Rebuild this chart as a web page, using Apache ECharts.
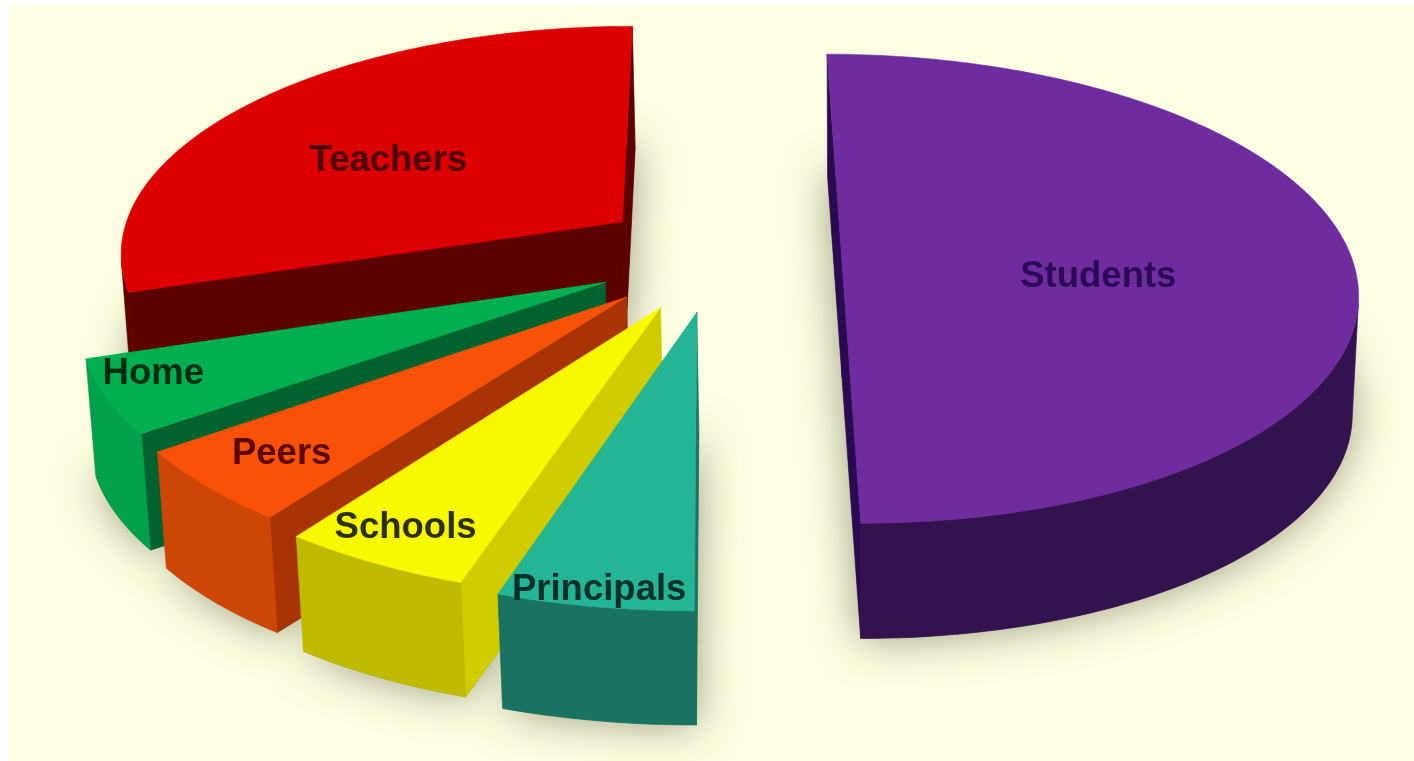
<!DOCTYPE html>
<html>
<head>
<meta charset="utf-8">
<style>html,body{margin:0;padding:0;background:#fff}#chart{width:1414px;height:761px}</style>
<script src="https://cdn.jsdelivr.net/npm/echarts@6/dist/echarts.min.js"></script>
</head>
<body>
<div id="chart"></div>
<script>
// Share of influence by group, clockwise from twelve o'clock
const names = ['Students', 'Principals', 'Schools', 'Peers', 'Home', 'Teachers'];
const shares = [50, 5, 5, 5, 5, 30];

const topColors = ['#6f2c9e', '#24b595', '#f8f800', '#f85208', '#00af50', '#dc0000'];
const rimColors = ['#33124f', '#1a7361', '#bfbb00', '#cc4606', '#00a04c', '#5c0000'];
const cutColors = ['#2a0a50', '#1a7361', '#d0cc00', '#a83406', '#00622e', '#5c0000'];
const labelColors = ['#2c0a58', '#04302a', '#2c3000', '#5c0808', '#002c14', '#4c0008'];

// Exploded pie layout on the table plane: offset of each wedge tip and its radius
const tipX = [132, -15, -51, -85, -107, -93];
const tipY = [-69, 48, 38, 15, -17, -154];
const radii = [519, 546, 537, 525, 522, 515];
const paintOrder = [0, 5, 4, 3, 2, 1];
const labelRadius = [260, 515, 470, 437, 467, 299];
const labelTurn = [0.544, 0.51, 0.556, 0.517, 0.69, 0.456];

// Perspective camera: lines of sight converge above the page, walls toward a point below it
const camera = { vx: 712, vy: -1550, y0: 290, depth: 4000, nx: 860, ny: 9600, wall: 0.0127 };
const ARC_STEP = Math.PI / 180;

function project(X, Y) {
  const s = 1 / (1 - Y / camera.depth);
  return [camera.vx + X * s, camera.vy + (camera.y0 - camera.vy) * s];
}
function drop(p) {
  return [p[0] + (camera.nx - p[0]) * camera.wall, p[1] + (camera.ny - p[1]) * camera.wall];
}
function area(pts) {
  let a = 0;
  for (let i = 0; i < pts.length; i++) {
    const q = pts[(i + 1) % pts.length];
    a += pts[i][0] * q[1] - q[0] * pts[i][1];
  }
  return a / 2;
}

const total = shares.reduce((a, b) => a + b, 0);
const startAngles = [];
shares.reduce((acc, v, i) => { startAngles[i] = acc; return acc + v / total * 2 * Math.PI; }, 0);

function ringPoint(i, r, phi) {
  return project(tipX[i] + r * Math.sin(phi), tipY[i] - r * Math.cos(phi));
}
function arcPoints(i) {
  const a0 = startAngles[i];
  const a1 = a0 + shares[i] / total * 2 * Math.PI;
  const n = Math.max(2, Math.ceil((a1 - a0) / ARC_STEP));
  const pts = [];
  for (let k = 0; k <= n; k++) pts.push(ringPoint(i, radii[i], a0 + (a1 - a0) * k / n));
  return pts;
}

function renderWedge(params, api) {
  const i = api.value(0);
  const arc = arcPoints(i);
  const tip = project(tipX[i], tipY[i]);
  const topFace = [tip].concat(arc);
  const sign = Math.sign(area(topFace));
  const base = paintOrder.indexOf(i) * 10;
  const children = [];
  const face = (pts, fill, z) => children.push({
    type: 'polygon', z2: base + z, shape: { points: pts },
    style: { fill, stroke: fill, lineWidth: 0.6 }
  });
  const seen = (p, q) => Math.sign(area([p, q, drop(q), drop(p)])) === -sign;

  // Flat cut faces, shown only where they turn toward the viewer
  const first = arc[0];
  const last = arc[arc.length - 1];
  if (seen(tip, first)) face([tip, first, drop(first), drop(tip)], cutColors[i], 1);
  if (seen(last, tip)) face([last, tip, drop(tip), drop(last)], cutColors[i], 1);

  // Curved outer wall
  const front = [];
  for (let k = 0; k < arc.length - 1; k++) {
    if (seen(arc[k], arc[k + 1])) {
      if (!front.length) front.push(arc[k]);
      front.push(arc[k + 1]);
    }
  }
  if (front.length) face(front.concat(front.map(drop).reverse()), rimColors[i], 2);

  face(topFace, topColors[i], 3);

  // Name on the top face
  const phi = startAngles[i] + labelTurn[i] * shares[i] / total * 2 * Math.PI;
  const at = ringPoint(i, labelRadius[i], phi);
  children.push({
    type: 'text', z2: 100, x: at[0], y: at[1] + 2.5,
    style: {
      text: names[i], fill: labelColors[i], align: 'center', verticalAlign: 'middle',
      font: 'bold 36.5px "Liberation Sans", Arial, sans-serif'
    }
  });
  return { type: 'group', children };
}

// Soft cast shadow from the bottom face of each wedge
function renderShadow(params, api) {
  const i = api.value(0);
  const pts = [project(tipX[i], tipY[i])].concat(arcPoints(i)).map(drop);
  return {
    type: 'polygon', shape: { points: pts },
    style: { fill: 'rgba(100,100,70,0.8)', shadowBlur: 44, shadowColor: 'rgba(95,95,70,0.8)' }
  };
}

const rows = names.map((n, i) => [i, shares[i], n]);
const chart = echarts.init(document.getElementById('chart'), null, { renderer: 'canvas' });
chart.setOption({
  animation: false,
  backgroundColor: '#ffffff',
  graphic: [{
    type: 'rect', z: -10, silent: true,
    shape: { x: 9, y: 5, width: 1405, height: 756 },
    style: { fill: '#feffe2' }
  }],
  series: [
    { type: 'custom', coordinateSystem: 'none', z: 1, silent: true, data: rows, renderItem: renderShadow, encode: { value: 1 } },
    { type: 'custom', coordinateSystem: 'none', z: 2, silent: true, data: rows, renderItem: renderWedge, encode: { value: 1 } }
  ]
});
</script>
</body>
</html>
